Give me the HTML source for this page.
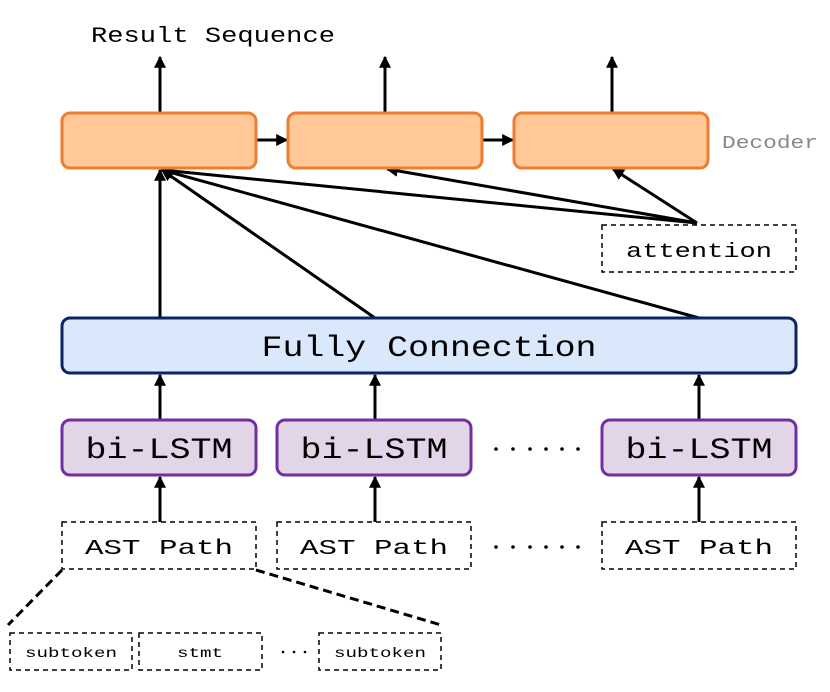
<!DOCTYPE html>
<html><head><style>body{margin:0;background:#fff}svg{display:block}</style></head><body>
<svg width="830" height="692" viewBox="0 0 830 692" xmlns="http://www.w3.org/2000/svg" font-family="Liberation Mono, monospace">
<defs>
<marker id="a" viewBox="0 0 10 10" refX="9" refY="5" markerWidth="4" markerHeight="4" orient="auto-start-reverse" markerUnits="strokeWidth"><path d="M0,0 L10,5 L0,10 z" fill="#000"/></marker>
</defs>
<text x="91" y="42" font-size="22" textLength="244" lengthAdjust="spacingAndGlyphs">Result Sequence</text>
<g stroke="#000" stroke-width="3" fill="none" marker-end="url(#a)">
<line x1="160" y1="113" x2="160" y2="57"/>
<line x1="385" y1="113" x2="385" y2="57"/>
<line x1="612" y1="113" x2="612" y2="57"/>
<line x1="256" y1="140" x2="287" y2="140"/>
<line x1="482" y1="140" x2="513" y2="140"/>
<line x1="160" y1="318" x2="160" y2="170"/>
<line x1="375" y1="318" x2="162" y2="170"/>
<line x1="699" y1="318" x2="162" y2="170"/>
<line x1="697" y1="223" x2="162" y2="170"/>
<line x1="697" y1="223" x2="387" y2="169"/>
<line x1="697" y1="223" x2="613" y2="169"/>
<line x1="160" y1="420" x2="160" y2="375"/>
<line x1="375" y1="420" x2="375" y2="375"/>
<line x1="699" y1="420" x2="699" y2="375"/>
<line x1="160" y1="522" x2="160" y2="477"/>
<line x1="375" y1="522" x2="375" y2="477"/>
<line x1="699" y1="522" x2="699" y2="477"/>
</g>
<g fill="#ffc896" stroke="#ed7d31" stroke-width="3">
<rect x="62" y="113" width="194" height="55" rx="8"/>
<rect x="288" y="113" width="194" height="55" rx="8"/>
<rect x="514" y="113" width="194" height="55" rx="8"/>
</g>
<text x="722" y="148" font-size="18" fill="#888" textLength="96" lengthAdjust="spacingAndGlyphs">Decoder</text>
<rect x="602" y="225" width="194" height="47" fill="none" stroke="#000" stroke-width="1.5" stroke-dasharray="5,4"/>
<text x="699" y="257" font-size="20" text-anchor="middle" textLength="146" lengthAdjust="spacingAndGlyphs">attention</text>
<rect x="62" y="318" width="734" height="55" rx="8" fill="#dae8fc" stroke="#0b2463" stroke-width="3"/>
<text x="429" y="356" font-size="30" text-anchor="middle" textLength="335" lengthAdjust="spacingAndGlyphs">Fully Connection</text>
<g fill="#e1d5e7" stroke="#7030a0" stroke-width="3">
<rect x="62" y="420" width="194" height="55" rx="8"/>
<rect x="277" y="420" width="194" height="55" rx="8"/>
<rect x="602" y="420" width="194" height="55" rx="8"/>
</g>
<g font-size="30" text-anchor="middle">
<text x="159" y="458" textLength="147" lengthAdjust="spacingAndGlyphs">bi-LSTM</text>
<text x="374" y="458" textLength="147" lengthAdjust="spacingAndGlyphs">bi-LSTM</text>
<text x="699" y="458" textLength="147" lengthAdjust="spacingAndGlyphs">bi-LSTM</text>
</g>
<g fill="#000"><circle cx="496" cy="449" r="1.8"/><circle cx="513" cy="449" r="1.8"/><circle cx="530" cy="449" r="1.8"/><circle cx="546" cy="449" r="1.8"/><circle cx="562" cy="449" r="1.8"/><circle cx="578" cy="449" r="1.8"/>
<circle cx="496" cy="547" r="1.8"/><circle cx="513" cy="547" r="1.8"/><circle cx="530" cy="547" r="1.8"/><circle cx="546" cy="547" r="1.8"/><circle cx="562" cy="547" r="1.8"/><circle cx="578" cy="547" r="1.8"/>
<circle cx="283" cy="652" r="1.3"/><circle cx="294" cy="652" r="1.3"/><circle cx="305" cy="652" r="1.3"/></g>
<g fill="none" stroke="#000" stroke-width="1.5" stroke-dasharray="5,4">
<rect x="62" y="522" width="194" height="47"/>
<rect x="277" y="522" width="194" height="47"/>
<rect x="602" y="522" width="194" height="47"/>
<rect x="10" y="633" width="122" height="37"/>
<rect x="139" y="633" width="123" height="37"/>
<rect x="319" y="633" width="122" height="37"/>
</g>
<g fill="none" stroke="#000" stroke-width="3" stroke-dasharray="9,5">
<line x1="62" y1="570" x2="8" y2="625"/>
<line x1="256" y1="570" x2="441" y2="625"/>
</g>
<g font-size="21" text-anchor="middle">
<text x="159" y="554" textLength="148" lengthAdjust="spacingAndGlyphs">AST Path</text>
<text x="374" y="554" textLength="148" lengthAdjust="spacingAndGlyphs">AST Path</text>
<text x="699" y="554" textLength="148" lengthAdjust="spacingAndGlyphs">AST Path</text>
</g>
<g font-size="14" text-anchor="middle">
<text x="71" y="657" textLength="92" lengthAdjust="spacingAndGlyphs">subtoken</text>
<text x="200" y="657" textLength="46" lengthAdjust="spacingAndGlyphs">stmt</text>
<text x="380" y="657" textLength="92" lengthAdjust="spacingAndGlyphs">subtoken</text>
</g>
</svg>
</body></html>
